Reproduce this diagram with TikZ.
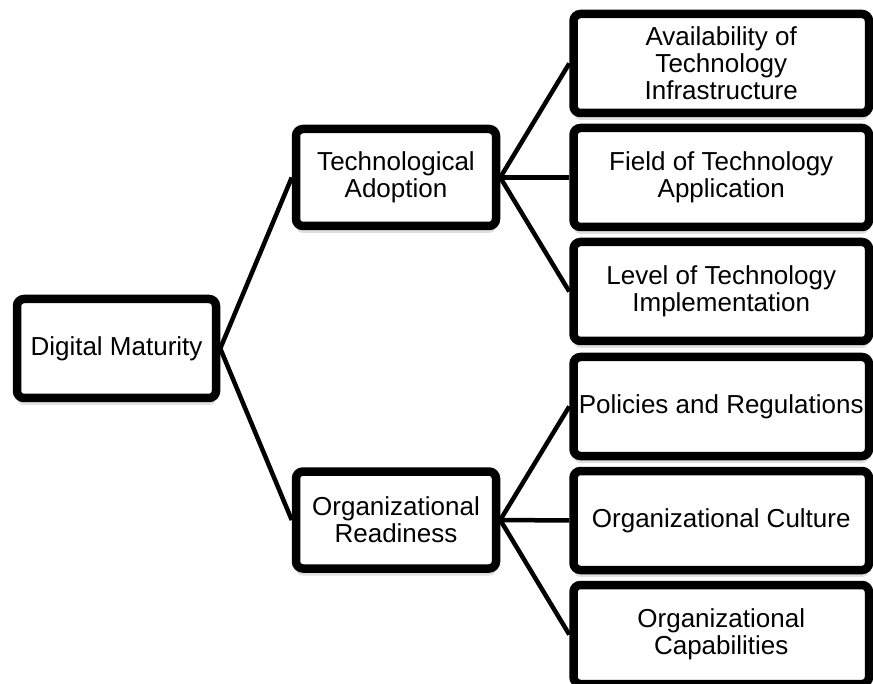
\documentclass[tikz,border=0pt]{standalone}
\usepackage{fontspec}
\setmainfont{Liberation Sans}
\usetikzlibrary{shadows}
\begin{document}
\begin{tikzpicture}[x=1pt,y=-1pt,
  box/.style={draw=black, line width=8.5pt, rounded corners=7pt, fill=white,
    inner sep=0pt, align=center,
    font=\fontsize{26}{27}\selectfont,
    drop shadow={shadow xshift=0pt, shadow yshift=-7pt, opacity=0.12, fill=black}},
  mainbox/.style={box, minimum width=199pt, minimum height=99pt},
  midbox/.style={box, minimum width=200pt, minimum height=97pt},
  leafbox/.style={box, minimum width=295.5pt, minimum height=99pt},
  link/.style={line width=4.5pt}]
\useasboundingbox (0,0) rectangle (873,684);
\clip (0,0) rectangle (873,684);
\node[mainbox] (dm) at (116.5,348.5) {Digital Maturity};
\node[midbox] (ta) at (396,177.5) {Technological\\Adoption};
\node[midbox] (or) at (396,520) {Organizational\\Readiness};
\node[leafbox] (l1) at (721.25,63.5) {Availability of\\Technology\\Infrastructure};
\node[leafbox] (l2) at (721.25,177.5) {Field of Technology\\Application};
\node[leafbox] (l3) at (721.25,291.5) {Level of Technology\\Implementation};
\node[leafbox] (l4) at (721.25,406.5) {Policies and Regulations};
\node[leafbox] (l5) at (721.25,520.5) {Organizational Culture};
\node[leafbox] (l6) at (721.25,634.5) {Organizational\\Capabilities};
\draw[link] (dm.east) -- (ta.west);
\draw[link] (dm.east) -- (or.west);
\draw[link] (ta.east) -- (l1.west);
\draw[link] (ta.east) -- (l2.west);
\draw[link] (ta.east) -- (l3.west);
\draw[link] (or.east) -- (l4.west);
\draw[link] (or.east) -- (l5.west);
\draw[link] (or.east) -- (l6.west);
\end{tikzpicture}
\end{document}
